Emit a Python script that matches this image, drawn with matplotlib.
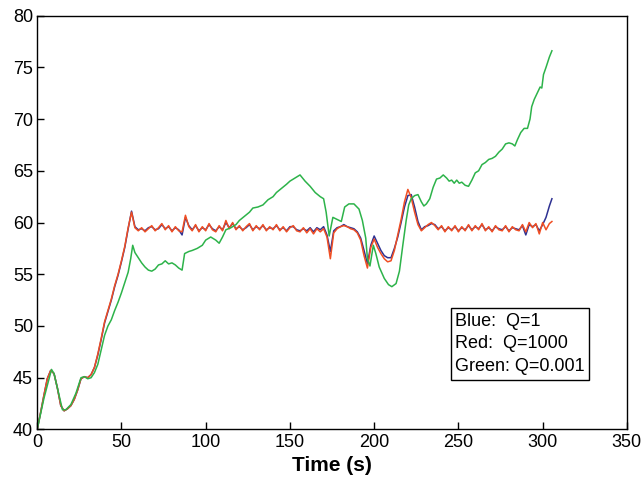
import numpy as np
import matplotlib
matplotlib.use("Agg")
import matplotlib.pyplot as plt

plt.rcParams['font.family'] = ['Liberation Sans', 'DejaVu Sans']

# common time grid for blue / red series (s)
t_rb = np.append(np.arange(0, 305, 2), 305.5)

red = [40.0, 41.6, 43.3, 44.9, 45.7, 45.4, 44.0, 42.3, 41.8, 42.0,
       42.3, 42.9, 43.8, 44.9, 45.1, 45.0, 45.3, 46.0, 47.3, 48.8,
       50.4, 51.5, 52.6, 53.9, 55.0, 56.3, 57.7, 59.5, 61.0, 59.5,
       59.2, 59.5, 59.1, 59.4, 59.7, 59.2, 59.5, 59.9, 59.3, 59.7,
       59.1, 59.6, 59.2, 59.1, 60.7, 59.6, 59.2, 59.8, 59.1, 59.6,
       59.2, 59.9, 59.3, 59.1, 59.7, 59.2, 60.2, 59.4, 60.0, 59.3,
       59.7, 59.2, 59.6, 59.9, 59.2, 59.7, 59.3, 59.8, 59.2, 59.6,
       59.3, 59.8, 59.2, 59.6, 59.1, 59.5, 59.7, 59.2, 59.1, 59.5,
       59.0, 59.4, 58.9, 59.4, 59.1, 59.4, 58.6, 56.5, 59.0, 59.4,
       59.6, 59.7, 59.6, 59.4, 59.3, 59.0, 58.3, 56.8, 55.6, 57.6,
       58.4, 57.6, 57.0, 56.5, 56.2, 56.3, 57.3, 58.8, 60.3, 62.0,
       63.2, 62.4, 61.0, 59.8, 59.2, 59.5, 59.8, 60.0, 59.7, 59.3,
       59.7, 59.1, 59.6, 59.2, 59.7, 59.1, 59.6, 59.2, 59.8, 59.2,
       59.7, 59.3, 59.9, 59.2, 59.6, 59.1, 59.7, 59.3, 59.2, 59.7,
       59.1, 59.6, 59.3, 59.2, 59.8, 59.1, 60.0, 59.5, 59.9, 58.9,
       60.0, 59.3, 59.9, 60.1]

blue = [40.0, 41.6, 43.3, 44.9, 45.7, 45.4, 44.0, 42.3, 41.8, 42.0,
        42.3, 42.9, 43.8, 44.9, 45.1, 45.0, 45.3, 46.0, 47.2, 48.7,
        50.3, 51.4, 52.5, 53.8, 54.9, 56.2, 57.6, 59.4, 61.1, 59.6,
        59.3, 59.4, 59.2, 59.5, 59.6, 59.3, 59.4, 59.8, 59.4, 59.6,
        59.2, 59.5, 59.3, 58.8, 60.5, 59.7, 59.3, 59.7, 59.2, 59.5,
        59.3, 59.8, 59.4, 59.2, 59.6, 59.3, 60.0, 59.5, 59.9, 59.4,
        59.6, 59.3, 59.5, 59.8, 59.3, 59.6, 59.4, 59.7, 59.3, 59.5,
        59.4, 59.7, 59.3, 59.5, 59.2, 59.6, 59.6, 59.3, 59.2, 59.4,
        59.2, 59.5, 59.1, 59.5, 59.3, 59.6, 58.8, 57.2, 59.2, 59.5,
        59.6, 59.8, 59.6, 59.5, 59.4, 59.1, 58.5, 57.3, 56.0, 57.8,
        58.7, 58.0, 57.3, 56.8, 56.6, 56.6, 57.5, 58.6, 60.0, 61.5,
        62.6, 62.7, 61.5, 60.1, 59.3, 59.6, 59.7, 59.9, 59.8, 59.4,
        59.6, 59.2, 59.5, 59.3, 59.6, 59.2, 59.5, 59.3, 59.7, 59.3,
        59.6, 59.4, 59.8, 59.3, 59.5, 59.2, 59.6, 59.4, 59.3, 59.6,
        59.2, 59.5, 59.4, 59.3, 59.7, 58.8, 59.8, 59.6, 59.8, 59.2,
        59.8, 60.5, 61.6, 62.3]

t_green = [0, 4, 8.5, 10, 12, 15, 17, 20, 23, 26, 28, 30, 32, 34, 36, 38,
           40, 42, 44, 46, 48, 50, 52, 54, 55.5, 56.7, 58, 60, 62, 64, 66,
           68, 70, 72, 74, 76, 78, 80, 82, 84, 86, 87.5, 90, 92, 95, 98,
           100, 103, 106, 108, 110, 112, 115, 118, 120, 123, 126, 128, 131,
           134, 137, 140, 142, 145, 148, 150, 153, 156, 157, 159, 162, 165,
           168, 170, 171.5, 173.3, 175.5, 178, 180.5, 182.5, 185, 188, 191,
           193, 195, 196, 197.5, 199.5, 201, 203, 206, 208.5, 210.5, 213,
           215, 217, 219, 220.5, 222, 224, 226, 228, 229.5, 231, 233, 235,
           237, 239, 241, 243, 244.5, 246, 247.5, 249, 250.5, 252, 254, 256,
           258, 260, 262, 264, 266, 268, 270, 272, 274, 276, 278, 280, 282,
           283.5, 285, 287, 289, 291, 292.5, 293.5, 295, 297, 298.5, 299.5,
           300.5, 302, 304, 305.5]
green = [40.0, 43.0, 45.8, 45.4, 44.0, 41.9, 41.9, 42.4, 43.5, 45.0, 45.1,
         44.9, 45.0, 45.5, 46.3, 47.7, 49.1, 50.0, 50.6, 51.5, 52.3, 53.2,
         54.2, 55.2, 56.5, 57.8, 57.1, 56.6, 56.1, 55.7, 55.4, 55.3, 55.5,
         55.9, 56.0, 56.3, 56.0, 56.1, 55.9, 55.6, 55.4, 57.0, 57.2, 57.3,
         57.5, 57.8, 58.3, 58.6, 58.3, 58.0, 58.6, 59.3, 59.5, 59.8, 60.2,
         60.6, 61.0, 61.4, 61.5, 61.7, 62.2, 62.5, 62.9, 63.3, 63.7, 64.0,
         64.3, 64.6, 64.4, 64.0, 63.5, 62.9, 62.5, 62.3, 61.0, 58.7, 60.5,
         60.3, 60.1, 61.5, 61.8, 61.8, 61.3, 60.2, 58.5, 56.5, 55.8, 57.8,
         57.0, 55.7, 54.6, 54.0, 53.8, 54.1, 55.3, 57.8, 60.2, 61.7, 62.3,
         62.6, 62.7, 62.0, 61.6, 61.8, 62.3, 63.4, 64.2, 64.3, 64.6, 64.3,
         64.0, 64.1, 63.8, 64.1, 63.8, 63.9, 63.6, 63.5, 64.1, 64.8, 65.0,
         65.6, 65.8, 66.1, 66.2, 66.4, 66.8, 67.1, 67.6, 67.7, 67.6, 67.4,
         68.0, 68.7, 69.1, 69.1, 70.0, 71.2, 71.9, 72.6, 73.1, 73.0, 74.3,
         75.0, 76.0, 76.6]

legend_lines = ["Blue:  Q=1", "Red:  Q=1000", "Green: Q=0.001"]

fig = plt.figure(figsize=(6.41, 4.88), dpi=100)
ax = fig.add_axes([0.058, 0.12, 0.92, 0.848])

ax.plot(t_rb, blue, color='#2E3192', lw=1.1)
ax.plot(t_rb, red, color='#F04E23', lw=1.1)
ax.plot(t_green, green, color='#2DB34A', lw=1.1)

ax.set_xlim(0, 350)
ax.set_ylim(40, 80)
ax.set_xticks(np.arange(0, 351, 50))
ax.set_yticks(np.arange(40, 81, 5))
ax.tick_params(direction='in', length=5, width=1, labelsize=13,
               top=False, right=False, pad=3)
for s in ax.spines.values():
    s.set_linewidth(1.0)
ax.set_xlabel('Time (s)', fontsize=15, fontweight='bold', labelpad=4)

ax.text(0.709, 0.131, "\n".join(legend_lines), transform=ax.transAxes,
        ha='left', va='bottom', fontsize=13, linespacing=1.45,
        bbox=dict(boxstyle='square,pad=0.25', fc='white', ec='black', lw=1))

fig.savefig('out.png', dpi=100)
